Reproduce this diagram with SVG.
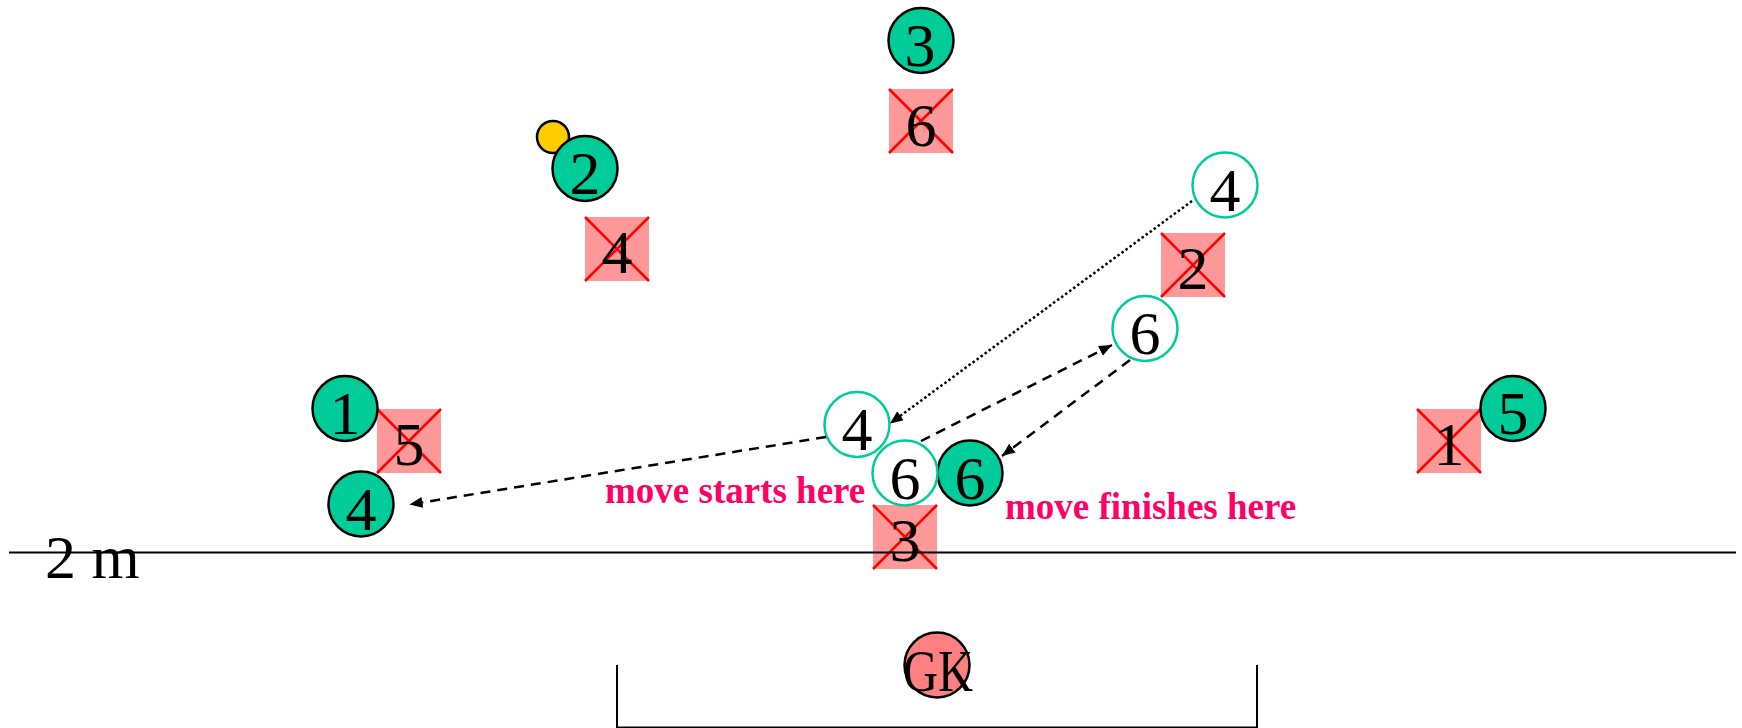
<svg xmlns="http://www.w3.org/2000/svg" width="1742" height="728" viewBox="0 0 1742 728">
  <style>
    .att { fill: #00CC99; stroke: #000; stroke-width: 2.5; }
    .ghost { fill: #fff; stroke: #00CC99; stroke-width: 2.5; }
    .def { fill: #FF9999; }
    .cross { stroke: #FF0000; stroke-width: 2.5; }
    .num { font-family: "Liberation Serif", "Times New Roman", serif; font-size: 62px; fill: #000; text-anchor: middle; }
    .note { font-family: "Liberation Serif", "Times New Roman", serif; font-size: 37px; font-weight: bold; fill: #FF0066; }
    .dash { fill: none; stroke: #000; stroke-width: 2.5; stroke-dasharray: 10 7; }
    .dot { fill: none; stroke: #000; stroke-width: 2.5; stroke-dasharray: 2.5 2.5; }
  </style>
  <defs>
    <marker id="head" markerUnits="userSpaceOnUse" markerWidth="14" markerHeight="12" refX="13" refY="5.5" orient="auto">
      <path d="M0,0 L13,5.5 L0,11 z" fill="#000"/>
    </marker>
    <!-- defender marker: pink square with a red cross -->
    <g id="defbox">
      <rect class="def" x="-32" y="-32" width="64" height="64"/>
      <path class="cross" d="M-32,-32 L32,32 M32,-32 L-32,32"/>
    </g>
  </defs>

  <rect width="1742" height="728" fill="#fff"/>

  <!-- goal mouth -->
  <path id="goal" d="M617,665 V727.5 H1257 V665" fill="none" stroke="#000" stroke-width="2"/>

  <!-- defenders -->
  <g id="def-6"><use href="#defbox" x="921" y="121"/><text class="num" x="921" y="146">6</text></g>
  <g id="def-4"><use href="#defbox" x="617" y="249"/><text class="num" x="617" y="273">4</text></g>
  <g id="def-2"><use href="#defbox" x="1193" y="265"/><text class="num" x="1193" y="289">2</text></g>
  <g id="def-5"><use href="#defbox" x="409" y="441"/><text class="num" x="409" y="465">5</text></g>
  <g id="def-1"><use href="#defbox" x="1449" y="441"/><text class="num" x="1449" y="465">1</text></g>
  <g id="def-3"><use href="#defbox" x="905" y="537"/><text class="num" x="905" y="561">3</text></g>

  <!-- goalkeeper -->
  <g id="gk">
    <circle cx="937" cy="665" r="32.5" fill="#FF8080" stroke="#000" stroke-width="2.5"/>
    <text class="num" x="938" y="691" style="font-size:60px" textLength="70" lengthAdjust="spacingAndGlyphs">GK</text>
  </g>

  <!-- ball -->
  <circle id="ball" cx="553" cy="137" r="16" fill="#FFCC00" stroke="#000" stroke-width="2.5"/>

  <!-- attackers -->
  <g id="att-3"><circle class="att" cx="921" cy="40.5" r="32.5"/><text class="num" x="920" y="65.5">3</text></g>
  <g id="att-2"><circle class="att" cx="585" cy="168.5" r="32.5"/><text class="num" x="585" y="194">2</text></g>
  <g id="att-1"><circle class="att" cx="345" cy="408.5" r="32.5"/><text class="num" x="345" y="434">1</text></g>
  <g id="att-5"><circle class="att" cx="1513" cy="408.5" r="32.5"/><text class="num" x="1513" y="434">5</text></g>
  <g id="att-4"><circle class="att" cx="361" cy="504" r="32.5"/><text class="num" x="361" y="530">4</text></g>
  <g id="att-6"><circle class="att" cx="970" cy="473" r="32.5"/><text class="num" x="970" y="499">6</text></g>

  <!-- earlier positions of the moving players -->
  <g id="pos-4a"><circle class="ghost" cx="1225" cy="185" r="32.5"/><text class="num" x="1225" y="211">4</text></g>
  <g id="pos-6a"><circle class="ghost" cx="1145" cy="328.5" r="32.5"/><text class="num" x="1145" y="354">6</text></g>
  <g id="pos-4b"><circle class="ghost" cx="857" cy="424.5" r="32.5"/><text class="num" x="857" y="450">4</text></g>
  <g id="pos-6b"><circle class="ghost" cx="905" cy="473" r="32.5"/><text class="num" x="905" y="499">6</text></g>

  <!-- movement paths -->
  <g id="connectors">
    <line class="dot" x1="1192" y1="201" x2="890" y2="423.5" marker-end="url(#head)"/>
    <line class="dash" x1="826" y1="437" x2="409.5" y2="504.5" marker-end="url(#head)"/>
    <line class="dash" x1="921" y1="441" x2="1112" y2="345" marker-end="url(#head)"/>
    <line class="dash" x1="1130" y1="360" x2="1002" y2="456" marker-end="url(#head)"/>
  </g>

  <!-- 2 m line -->
  <g id="two-metre">
    <text class="num" x="45" y="578" style="text-anchor:start">2 m</text>
    <line x1="9" y1="552.5" x2="1736" y2="552.5" stroke="#000" stroke-width="2"/>
  </g>

  <!-- captions -->
  <text id="cap-start" class="note" x="605" y="503">move starts here</text>
  <text id="cap-end" class="note" x="1005" y="519">move finishes here</text>
</svg>
